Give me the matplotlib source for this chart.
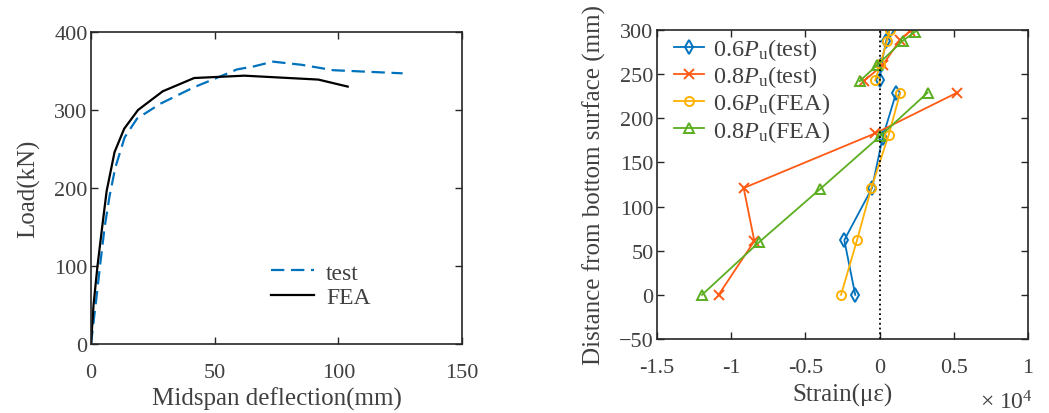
import numpy as np
import matplotlib
matplotlib.use("Agg")
import matplotlib.pyplot as plt
from matplotlib.ticker import FuncFormatter, MultipleLocator

# ---------------- data ----------------
# Left: load-deflection
test_defl = [0, 0.7, 2.2, 3.8, 5.5, 7.5, 9.8, 13.6, 18.6, 28, 41.5, 50, 59, 66, 73.5, 85, 98, 112, 126]
test_load = [0, 20, 60, 105, 150, 190, 226, 265, 289, 308, 329, 340, 352, 356, 362, 358, 351, 349, 347]
fea_defl = [0, 1.0, 2.6, 4.5, 6.3, 9.5, 13.4, 19, 29, 41.7, 62, 91.9, 103.8]
fea_load = [0, 50, 100, 150, 196, 246, 276, 300, 324, 341, 344, 339, 330]

# Right: strain distribution (microstrain), NaN breaks the line between groups
h_test06 = [0, 62, 121, 178, 229, np.nan, 243, 260, 288, 300]
s_test06 = [-1640, -2380, -510, 200, 1120, np.nan, 0, 100, 450, 670]
h_test08 = [0, 61, 121, 183, 229, np.nan, 242, 260, 289, 299]
s_test08 = [-10850, -8440, -9160, -290, 5220, np.nan, -1080, 200, 1390, 2070]
h_fea06 = [0, 62, 121, 181, 229, np.nan, 243, 261, 288, 300]
s_fea06 = [-2600, -1520, -560, 610, 1390, np.nan, -300, 50, 500, 670]
h_fea08 = [0, 60, 120, 180, 229, np.nan, 242, 260, 288, 298]
s_fea08 = [-11970, -8100, -4000, 50, 3230, np.nan, -1350, -180, 1580, 2400]

labels_right = [r"0.6$P_{\mathrm{u}}$(test)", r"0.8$P_{\mathrm{u}}$(test)",
                r"0.6$P_{\mathrm{u}}$(FEA)", r"0.8$P_{\mathrm{u}}$(FEA)"]

# ---------------- style ----------------
plt.rcParams['font.family'] = ['Liberation Serif', 'DejaVu Serif']
plt.rcParams['mathtext.fontset'] = 'custom'
plt.rcParams['mathtext.rm'] = 'Liberation Serif'
plt.rcParams['mathtext.it'] = 'Liberation Serif:italic'
plt.rcParams['axes.unicode_minus'] = False

AX = '#262626'
TX = '#404040'
TS = 16
LS = 18

fig = plt.figure(figsize=(10.49, 4.14), dpi=100)
ax1 = fig.add_axes([0.0868, 0.1667, 0.3536, 0.7536])
ax2 = fig.add_axes([0.6263, 0.1787, 0.3537, 0.7465])

def style(ax):
    for s in ax.spines.values():
        s.set_color(AX)
        s.set_linewidth(1.2)
    ax.tick_params(direction='in', top=True, right=True, length=5, width=1.0,
                   color=AX, labelcolor=TX, labelsize=TS)
    ax.tick_params(axis='x', pad=14)
    ax.tick_params(axis='y', pad=2.5)

# Left panel
ax1.plot(test_defl, test_load, color='#0072BD', ls=(0, (6, 3)), lw=1.6, label='test')
ax1.plot(fea_defl, fea_load, color='black', lw=1.6, label='FEA')
ax1.set_xlim(0, 150)
ax1.set_ylim(0, 400)
ax1.xaxis.set_major_locator(MultipleLocator(50))
ax1.yaxis.set_major_locator(MultipleLocator(100))
style(ax1)
ax1.set_xlabel('Midspan deflection(mm)', fontsize=LS, color=TX, labelpad=3)
ax1.set_ylabel('Load(kN)', fontsize=LS, color=TX, labelpad=10)
leg1 = ax1.legend(loc='lower left', bbox_to_anchor=(0.427, 0.047), frameon=False,
                  fontsize=TS + 1, handlelength=1.85, labelspacing=0.12, handletextpad=0.5)
for t in leg1.get_texts():
    t.set_color(TX)

# Right panel
cols = ['#0072BD', '#FF5A14', '#FFB000', '#5BAE1F']
mk = dict(markerfacecolor='none', markersize=6.5, lw=1.3, markeredgewidth=1.4)
ax2.plot(s_test06, h_test06, color=cols[0], marker='d', label=labels_right[0], **{**mk, 'markersize': 7})
ax2.plot(s_test08, h_test08, color=cols[1], marker='x', label=labels_right[1], **mk)
ax2.plot(s_fea06, h_fea06, color=cols[2], marker='o', label=labels_right[2], **mk)
ax2.plot(s_fea08, h_fea08, color=cols[3], marker='^', label=labels_right[3], **{**mk, 'markersize': 7})
ax2.axvline(0, color='black', ls=':', lw=1.3)
ax2.set_xlim(-15000, 10000)
ax2.set_ylim(-50, 300)
ax2.xaxis.set_major_locator(MultipleLocator(5000))
ax2.yaxis.set_major_locator(MultipleLocator(50))
ax2.xaxis.set_major_formatter(FuncFormatter(lambda v, p: f"{v/1e4:g}"))
ax2.yaxis.set_major_formatter(FuncFormatter(lambda v, p: f"{v:g}".replace('-', '\u2212')))
style(ax2)
ax2.set_xlabel('Strain(\u03bc\u03b5)', fontsize=LS, color=TX, labelpad=4)
ax2.set_ylabel('Distance from bottom surface (mm)', fontsize=LS, color=TX, labelpad=9)
ax2.text(1.012, -0.205, r'$\times\ 10^{4}$', transform=ax2.transAxes, ha='right', va='center',
         fontsize=TS + 1, color=TX)
leg2 = ax2.legend(loc='upper left', bbox_to_anchor=(0.0, 1.035), frameon=False,
                  fontsize=TS + 1.5, handlelength=1.25, labelspacing=0.05, handletextpad=0.35,
                  borderaxespad=0.3)
for t in leg2.get_texts():
    t.set_color(TX)

fig.savefig('out.png', dpi=100)
